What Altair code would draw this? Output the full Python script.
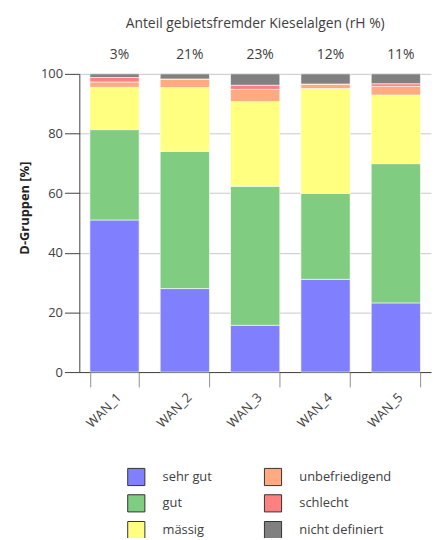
import altair as alt
import pandas as pd

stations = ["WAN_1", "WAN_2", "WAN_3", "WAN_4", "WAN_5"]
foreign_share = ["3%", "21%", "23%", "12%", "11%"]
classes = ["sehr gut", "gut", "mässig", "unbefriedigend", "schlecht", "nicht definiert"]
colors = ["#8080FF", "#80CC80", "#FFFF80", "#FFAA80", "#FF8080", "#808080"]

sehr_gut = [51.0, 28.0, 15.7, 31.1, 23.2]
gut = [30.3, 46.0, 46.6, 28.8, 46.7]
maessig = [14.2, 21.4, 28.4, 35.2, 23.0]
unbefriedigend = [1.8, 2.9, 4.1, 1.5, 2.9]
schlecht = [1.5, 0.0, 1.4, 0.0, 0.9]
nicht_definiert = [1.2, 1.7, 3.8, 3.4, 3.3]

series = [sehr_gut, gut, maessig, unbefriedigend, schlecht, nicht_definiert]
rows = []
for ci, (cls, vals) in enumerate(zip(classes, series)):
    for st, v in zip(stations, vals):
        rows.append({"station": st, "klasse": cls, "wert": v, "ord": ci})
df = pd.DataFrame(rows)
top_df = pd.DataFrame({"station": stations, "label": foreign_share})

FONT = "Open Sans"
xenc = alt.X("station:N", sort=stations,
             scale=alt.Scale(paddingInner=0.3, paddingOuter=0.15),
             axis=alt.Axis(title=None, labelAngle=-45, labelFontSize=13, labelColor="#404040",
                           labelFont=FONT, tickBand="extent", tickSize=15, tickColor="#909090",
                           domainColor="#404040", labelPadding=4, labelAlign="right",
                           labelBaseline="top"))

bars = alt.Chart(df).mark_bar(stroke="white", strokeWidth=1, strokeOpacity=0.6).encode(
    x=xenc,
    y=alt.Y("wert:Q", stack="zero", scale=alt.Scale(domain=[0, 100]),
            axis=alt.Axis(title="D-Gruppen [%]", values=[0, 20, 40, 60, 80, 100],
                          tickSize=15, tickColor="#404040", domainColor="#404040",
                          gridColor="#c8c8c8", labelFontSize=13, labelColor="#404040",
                          labelFont=FONT, labelPadding=2, titleFont=FONT, titleFontSize=13,
                          titleFontWeight="bold", titleColor="#222", titleAngle=270,
                          titleAlign="center", titleBaseline="middle", titleX=-55, titleY=135)),
    color=alt.Color("klasse:N", scale=alt.Scale(domain=classes, range=colors),
                    legend=alt.Legend(title=None, orient="none", legendX=48, legendY=397,
                                      columns=2, symbolType="square", symbolSize=300,
                                      symbolStrokeColor="#333", symbolStrokeWidth=1,
                                      symbolOpacity=1,
                                      labelFontSize=13, labelFont=FONT, labelColor="#404040",
                                      labelOffset=17, rowPadding=4, columnPadding=50)),
    order=alt.Order("ord:Q", sort="ascending"),
)

tops = alt.Chart(top_df).mark_text(fontSize=14, font=FONT, color="#404040", dx=5,
                                   baseline="middle").encode(
    x=alt.X("station:N", sort=stations),
    y=alt.value(-19),
    text="label:N",
)

chart = alt.layer(bars, tops).properties(
    width=355, height=301,
    title=alt.TitleParams("Anteil gebietsfremder Kieselalgen (rH %)", fontSize=14,
                          font=FONT, fontWeight="normal", color="#404040",
                          anchor="middle", offset=17),
    autosize=alt.AutoSizeParams(type="none"),
    padding={"left": 72, "top": 64, "right": 2, "bottom": 165},
).configure_view(stroke=None).configure_axis(grid=True).configure_axisX(grid=False)

chart.save("out.html", embed_options={"renderer": "svg", "actions": False})
